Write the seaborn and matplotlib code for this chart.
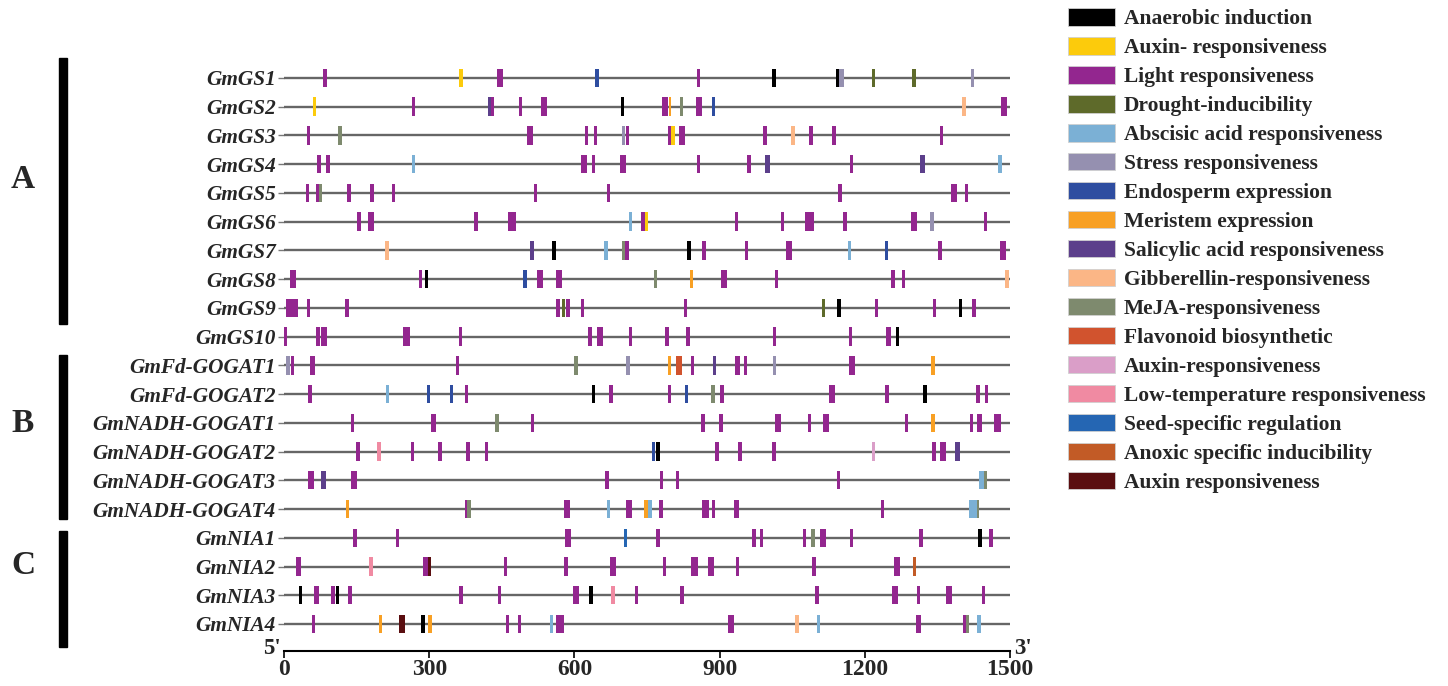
import numpy as np
import pandas as pd
import seaborn as sns
import matplotlib.pyplot as plt
from matplotlib.patches import Patch, Rectangle

# element types: code, legend label, colour
type_codes = ['AN', 'AX', 'L', 'DR', 'ABA', 'ST', 'EN', 'ME', 'SA', 'GA', 'MJ',
              'FL', 'AXR', 'LT', 'SS', 'AO', 'AXM']
type_labels = ['Anaerobic induction', 'Auxin- responsiveness', 'Light responsiveness',
               'Drought-inducibility', 'Abscisic acid responsiveness', 'Stress responsiveness',
               'Endosperm expression', 'Meristem expression', 'Salicylic acid responsiveness',
               'Gibberellin-responsiveness', 'MeJA-responsiveness', 'Flavonoid biosynthetic',
               'Auxin-responsiveness', 'Low-temperature responsiveness', 'Seed-specific regulation',
               'Anoxic specific inducibility', 'Auxin responsiveness']
type_colors = ['#000000', '#FCCB0C', '#93268F', '#5E6A2A', '#7BB0D5', '#9590B0',
               '#2E4DA0', '#F8A024', '#5C3F8B', '#FBB686', '#7E8A6E', '#D1532E',
               '#DA9EC8', '#F08AA2', '#2566B3', '#C25B26', '#5A0E10']

genes = ['GmGS1', 'GmGS2', 'GmGS3', 'GmGS4', 'GmGS5', 'GmGS6', 'GmGS7', 'GmGS8',
         'GmGS9', 'GmGS10', 'GmFd-GOGAT1', 'GmFd-GOGAT2', 'GmNADH-GOGAT1',
         'GmNADH-GOGAT2', 'GmNADH-GOGAT3', 'GmNADH-GOGAT4', 'GmNIA1', 'GmNIA2',
         'GmNIA3', 'GmNIA4']

# (centre position in bp, element length, type)
t, k, v = 7, 12, 16
gs1 = [(85, t, 'L'), (366, t, 'AX'), (447, k, 'L'), (647, t, 'EN'), (857, t, 'L'), (1012, t, 'AN'),
       (1144, 5, 'AN'), (1152, 9, 'ST'), (1218, t, 'DR'), (1302, t, 'DR'), (1422, t, 'ST')]
gs2 = [(63, t, 'AX'), (268, t, 'L'), (424, t, 'SA'), (431, t, 'L'), (489, t, 'L'), (537, k, 'L'),
       (700, t, 'AN'), (788, k, 'L'), (798, 5, 'ME'), (821, t, 'MJ'), (858, k, 'L'), (888, t, 'EN'),
       (1405, t, 'GA'), (1488, k, 'L')]
gs3 = [(50, t, 'L'), (116, t, 'MJ'), (508, k, 'L'), (625, t, 'L'), (643, t, 'L'), (702, t, 'ST'),
       (710, t, 'L'), (796, t, 'L'), (804, t, 'AX'), (822, k, 'L'), (994, t, 'L'), (1052, t, 'GA'),
       (1089, t, 'L'), (1136, t, 'L'), (1359, t, 'L')]
gs4 = [(72, t, 'L'), (91, t, 'L'), (267, t, 'ABA'), (620, k, 'L'), (640, t, 'L'), (700, k, 'L'),
       (856, t, 'L'), (961, t, 'L'), (999, 10, 'SA'), (1173, t, 'L'), (1319, 10, 'SA'), (1479, t, 'ABA')]
gs5 = [(48, t, 'L'), (70, t, 'L'), (75, t, 'MJ'), (134, t, 'L'), (182, t, 'L'), (226, t, 'L'),
       (519, t, 'L'), (671, t, 'L'), (1149, t, 'L'), (1384, k, 'L'), (1410, t, 'L')]
gs6 = [(155, t, 'L'), (179, k, 'L'), (397, t, 'L'), (471, v, 'L'), (716, t, 'ABA'), (742, t, 'L'),
       (749, t, 'AX'), (935, t, 'L'), (1030, t, 'L'), (1082, k, 'L'), (1092, t, 'L'), (1159, t, 'L'),
       (1302, k, 'L'), (1339, t, 'ST'), (1450, t, 'L')]
gs7 = [(213, t, 'GA'), (512, t, 'SA'), (558, t, 'AN'), (665, t, 'ABA'), (701, t, 'MJ'), (709, t, 'L'),
       (837, t, 'AN'), (868, t, 'L'), (956, t, 'L'), (1043, k, 'L'), (1168, t, 'ABA'), (1245, t, 'EN'),
       (1355, t, 'L'), (1485, k, 'L')]
gs8 = [(19, k, 'L'), (282, t, 'L'), (295, t, 'AN'), (498, t, 'EN'), (529, k, 'L'), (568, k, 'L'),
       (767, t, 'MJ'), (842, t, 'ME'), (909, k, 'L'), (1018, t, 'L'), (1258, t, 'L'), (1280, t, 'L'),
       (1494, t, 'GA')]
gs9 = [(12, v, 'L'), (25, t, 'L'), (50, t, 'L'), (130, t, 'L'), (566, t, 'L'), (578, t, 'DR'),
       (587, t, 'L'), (617, t, 'L'), (829, t, 'L'), (1115, t, 'DR'), (1147, t, 'AN'), (1224, t, 'L'),
       (1344, t, 'L'), (1398, t, 'AN'), (1426, t, 'L')]
gs10 = [(3, t, 'L'), (70, t, 'L'), (83, k, 'L'), (253, v, 'L'), (365, t, 'L'), (632, t, 'L'),
        (653, k, 'L'), (716, t, 'L'), (791, t, 'L'), (835, t, 'L'), (1014, t, 'L'), (1170, t, 'L'),
        (1249, k, 'L'), (1268, t, 'AN')]
fd1 = [(8, t, 'ST'), (17, t, 'L'), (59, k, 'L'), (359, t, 'L'), (603, t, 'MJ'), (711, t, 'ST'),
       (796, t, 'ME'), (816, k, 'FL'), (844, t, 'L'), (890, t, 'SA'), (937, k, 'L'), (953, t, 'L'),
       (1014, t, 'ST'), (1173, k, 'L'), (1341, t, 'ME')]
fd2 = [(54, t, 'L'), (214, t, 'ABA'), (298, t, 'EN'), (346, t, 'EN'), (377, t, 'L'), (640, t, 'AN'),
       (676, t, 'L'), (797, t, 'L'), (831, t, 'EN'), (886, t, 'MJ'), (905, t, 'L'), (1133, k, 'L'),
       (1246, t, 'L'), (1324, t, 'AN'), (1434, t, 'L'), (1451, t, 'L')]
nadh1 = [(142, t, 'L'), (309, k, 'L'), (440, t, 'MJ'), (513, t, 'L'), (866, t, 'L'), (903, t, 'L'),
         (1021, k, 'L'), (1086, t, 'L'), (1119, k, 'L'), (1286, t, 'L'), (1341, t, 'ME'), (1421, t, 'L'),
         (1437, k, 'L'), (1474, v, 'L')]
nadh2 = [(153, t, 'L'), (196, t, 'LT'), (266, t, 'L'), (322, t, 'L'), (380, t, 'L'), (419, t, 'L'),
         (764, t, 'EN'), (773, t, 'AN'), (895, t, 'L'), (942, t, 'L'), (1012, t, 'L'), (1218, t, 'AXR'),
         (1343, t, 'L'), (1362, k, 'L'), (1391, 10, 'SA')]
nadh3 = [(56, k, 'L'), (82, 10, 'SA'), (145, k, 'L'), (667, t, 'L'), (780, t, 'L'), (813, t, 'L'),
         (1146, t, 'L'), (1441, k, 'ABA'), (1448, t, 'MJ')]
nadh4 = [(131, t, 'ME'), (377, t, 'L'), (382, t, 'MJ'), (584, k, 'L'), (671, t, 'ABA'), (712, k, 'L'),
         (748, t, 'ME'), (756, t, 'ABA'), (779, t, 'L'), (871, v, 'L'), (888, t, 'L'), (935, k, 'L'),
         (1237, t, 'L'), (1424, v, 'ABA'), (1432, t, 'MJ')]
nia1 = [(147, t, 'L'), (234, t, 'L'), (586, k, 'L'), (705, t, 'SS'), (773, t, 'L'), (971, t, 'L'),
        (986, t, 'L'), (1075, t, 'L'), (1093, t, 'MJ'), (1113, k, 'L'), (1172, t, 'L'), (1316, t, 'L'),
        (1438, t, 'AN'), (1461, t, 'L')]
nia2 = [(30, k, 'L'), (180, t, 'LT'), (293, k, 'L'), (300, t, 'AXM'), (458, t, 'L'), (583, t, 'L'),
        (680, k, 'L'), (786, t, 'L'), (848, v, 'L'), (882, k, 'L'), (937, t, 'L'), (1095, t, 'L'),
        (1266, k, 'L'), (1303, t, 'AO')]
nia3 = [(34, t, 'AN'), (67, k, 'L'), (101, t, 'L'), (110, t, 'AN'), (136, t, 'L'), (366, t, 'L'),
        (445, t, 'L'), (603, k, 'L'), (634, t, 'AN'), (680, t, 'LT'), (728, t, 'L'), (822, t, 'L'),
        (1101, t, 'L'), (1263, k, 'L'), (1311, t, 'L'), (1374, k, 'L'), (1445, t, 'L')]
nia4 = [(61, t, 'L'), (199, t, 'ME'), (243, k, 'AXM'), (287, t, 'AN'), (302, t, 'ME'), (462, t, 'L'),
        (486, t, 'L'), (553, t, 'ABA'), (570, v, 'L'), (923, k, 'L'), (1060, t, 'GA'), (1104, t, 'ABA'),
        (1311, k, 'L'), (1407, t, 'L'), (1412, t, 'MJ'), (1436, t, 'ABA')]

gene_elements = [gs1, gs2, gs3, gs4, gs5, gs6, gs7, gs8, gs9, gs10,
                 fd1, fd2, nadh1, nadh2, nadh3, nadh4, nia1, nia2, nia3, nia4]
gene_length = 1500
xticks = [0, 300, 600, 900, 1200, 1500]

groups = ['A', 'B', 'C']

# long table of elements
rows = []
for i, (g, els) in enumerate(zip(genes, gene_elements)):
    for pos, ln, typ in els:
        rows.append({'gene': g, 'row': i, 'pos': pos, 'len': ln, 'type': typ})
df = pd.DataFrame(rows)
color_of = dict(zip(type_codes, type_colors))

sns.set_theme(style='white')
plt.rcParams['font.family'] = 'Liberation Serif'

W, H = 1448, 686
fig = plt.figure(figsize=(W / 100, H / 100), dpi=100)
ax = fig.add_axes([284 / W, 1 - 651 / H, 726 / W, 590 / H])

# gene backbones
ax.hlines(np.arange(len(genes)), 0, gene_length, color='#666666', lw=1.7, zorder=1)

# cis-elements
for typ, sub in df.groupby('type', sort=False):
    ax.barh(sub['row'], sub['len'], left=sub['pos'] - sub['len'] / 2, height=0.64,
            color=color_of[typ], edgecolor='none', zorder=2)

ax.set_xlim(0, gene_length)
ax.set_ylim(19.94, -0.59)
ax.set_yticks(np.arange(len(genes)))
ax.set_yticklabels(genes, fontsize=15.3, fontweight='bold', fontstyle='italic')
ax.set_xticks(xticks)
ax.set_xticklabels([str(x) for x in xticks], fontsize=17, fontweight='bold')
ax.tick_params(axis='y', length=4, width=1, color='#777777', pad=2, left=True)
ax.tick_params(axis='x', length=5, width=1.2, color='black', pad=1, bottom=True)
sns.despine(ax=ax, left=True, top=True, right=True)
ax.spines['bottom'].set_color('black')
ax.spines['bottom'].set_linewidth(1.5)

ax.text(-0.005, 0.004, "5'", transform=ax.transAxes, ha='right', va='center',
        fontsize=16.5, fontweight='bold')
ax.text(1.005, 0.004, "3'", transform=ax.transAxes, ha='left', va='center',
        fontsize=16.5, fontweight='bold')

# group brackets and letters (figure pixel coords)
ov = fig.add_axes([0, 0, 1, 1], facecolor='none')
ov.set_xlim(0, W)
ov.set_ylim(H, 0)
ov.axis('off')
for letter, y0, y1, yl in zip(groups, [58, 355, 531], [324, 519, 647], [180, 424, 565]):
    ov.add_patch(Rectangle((58.5, y0), 8, y1 - y0, color='black'))
    ov.text(23, yl, letter, ha='center', va='center', fontsize=24, fontweight='bold')

# legend
handles = [Patch(facecolor=c, edgecolor='#d0d0d0', linewidth=0.6) for c in type_colors]
fig.legend(handles, type_labels, loc='upper left', bbox_to_anchor=(1068 / W, 1 - 8 / H),
           frameon=False, prop={'family': 'Liberation Serif', 'weight': 'bold', 'size': 15.5},
           handlelength=2.2, handleheight=0.88, labelspacing=0.36, handletextpad=0.4,
           borderaxespad=0, borderpad=0)

fig.savefig('out.png', dpi=100)
